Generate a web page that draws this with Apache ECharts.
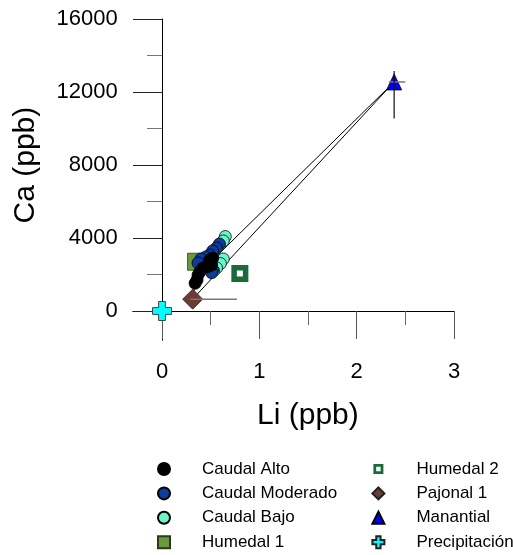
<!DOCTYPE html>
<html>
<head>
<meta charset="utf-8">
<script src="https://cdn.jsdelivr.net/npm/echarts@6/dist/echarts.min.js"></script>
<style>
  html, body { margin: 0; padding: 0; background: #fff; }
  #chart { width: 513px; height: 555px; }
</style>
</head>
<body>
<div id="chart"></div>
<script>
// Li vs Ca concentrations (ppb) by sample group
const caudalAltoLi = [0.52, 0.49, 0.51, 0.47, 0.42, 0.39, 0.37, 0.36, 0.34];
const caudalAltoCa = [2900, 2800, 2520, 2430, 2360, 2150, 1970, 1700, 1520];

const caudalModeradoLi = [0.59, 0.56, 0.52, 0.49, 0.45, 0.40, 0.37, 0.49, 0.52, 0.51];
const caudalModeradoCa = [3670, 3450, 3290, 3070, 2960, 2850, 2630, 2470, 2240, 2100];

const caudalBajoLi = [0.65, 0.63, 0.63, 0.60, 0.56, 0.53];
const caudalBajoCa = [4080, 3840, 2850, 2600, 2360, 2200];

const humedal1Li = [0.35];
const humedal1Ca = [2700];

const humedal2Li = [0.80];
const humedal2Ca = [2050];

const pajonal1Li = [0.315];
const pajonal1Ca = [650];

const manantialLi = [2.385];
const manantialCa = [12550];

const precipitacionLi = [0];
const precipitacionCa = [0];

// Mixing lines between end-members
const mixLi = [0.315, 2.385, 0.35, 0.315];
const mixCa = [650, 12550, 1900, 650];

// Error bars: centre, Li range, Ca range
const errLi = [2.385, 0.315];
const errCa = [12550, 650];
const errLiLow = [2.33, 0.29];
const errLiHigh = [2.50, 0.77];
const errCaLow = [10550, 650];
const errCaHigh = [13150, 650];

// Axis ticks
const xMajorTicks = [0, 1, 2, 3];
const xMinorTicks = [0.5, 1.5, 2.5];
const yMajorTicks = [0, 4000, 8000, 12000, 16000];
const yMinorTicks = [2000, 6000, 10000, 14000];

const zip = (a, b) => a.map((v, i) => [v, b[i]]);

const FONT = 'Liberation Sans, Arial, Helvetica, sans-serif';
const CROSS = 'path://M3.2,0H6.8V3.2H10V6.8H6.8V10H3.2V6.8H0V3.2H3.2Z';
// smaller square inside a 10x10 box, for the hollow-square legend icon
const SMALL_SQUARE = 'path://M0,0M10,10M2,2H8V8H2Z';

const H2_GREEN = '#1B6B3A';

const chart = echarts.init(document.getElementById('chart'), null, { renderer: 'canvas' });

const markStyle = (color, border, width) => ({ color: color, borderColor: border, borderWidth: width, opacity: 1 });

const legendCommon = {
  orient: 'vertical',
  top: 459,
  padding: 0,
  itemWidth: 12,
  itemHeight: 12,
  itemGap: 4.4,
  selectedMode: false,
  textStyle: { fontFamily: FONT, fontSize: 17, lineHeight: 20, color: '#000', padding: [0, 0, 0, 27] }
};

const plainNumber = (v) => String(v);

const option = {
  animation: false,
  backgroundColor: '#fff',
  grid: { left: 132.8, top: 19, width: 321.2, height: 321.2, outerBoundsMode: 'none', containLabel: false },
  legend: [
    Object.assign({ left: 157, data: ['Caudal Alto', 'Caudal Moderado', 'Caudal Bajo', 'Humedal 1'] }, legendCommon),
    Object.assign({
      left: 371,
      data: [
        { name: 'Humedal 2', icon: SMALL_SQUARE, itemStyle: { color: '#fff', borderColor: H2_GREEN, borderWidth: 2.8 } },
        'Pajonal 1', 'Manantial', 'Precipitación'
      ]
    }, legendCommon)
  ],
  xAxis: [
    {
      type: 'value', min: -0.3, max: 3, position: 'bottom',
      axisLine: { show: true, onZero: true, lineStyle: { color: '#000', width: 1 } },
      axisTick: { show: true, customValues: xMajorTicks, length: 28, lineStyle: { color: '#555', width: 1 } },
      axisLabel: { show: true, customValues: xMajorTicks, formatter: plainNumber, margin: 21, fontSize: 22, fontFamily: FONT, color: '#000' },
      splitLine: { show: false },
      name: 'Li (ppb)', nameLocation: 'middle', nameGap: 61,
      nameTextStyle: { fontFamily: FONT, fontSize: 30, color: '#000', padding: [0, 0, 0, 29] }
    },
    {
      type: 'value', min: -0.3, max: 3, position: 'bottom',
      axisLine: { show: false, onZero: true, onZeroAxisIndex: 0 },
      axisTick: { show: true, customValues: xMinorTicks, length: 14, lineStyle: { color: '#666', width: 1 } },
      axisLabel: { show: false },
      splitLine: { show: false }
    }
  ],
  yAxis: [
    {
      type: 'value', min: -1600, max: 16000, position: 'left',
      axisLine: { show: true, onZero: true, lineStyle: { color: '#000', width: 1 } },
      axisTick: { show: true, customValues: yMajorTicks, length: 29, lineStyle: { color: '#222', width: 1 } },
      axisLabel: { show: true, customValues: yMajorTicks, formatter: plainNumber, margin: 15, fontSize: 22, fontFamily: FONT, color: '#000' },
      splitLine: { show: false },
      name: 'Ca (ppb)', nameLocation: 'middle', nameGap: 92,
      nameTextStyle: { fontFamily: FONT, fontSize: 30, color: '#000', padding: [0, 0, 0, 29] }
    },
    {
      type: 'value', min: -1600, max: 16000, position: 'left',
      axisLine: { show: false, onZero: true, onZeroAxisIndex: 0 },
      axisTick: { show: true, customValues: yMinorTicks, length: 15, lineStyle: { color: '#777', width: 1 } },
      axisLabel: { show: false },
      splitLine: { show: false }
    }
  ],
  series: [
    {
      name: 'mezcla', type: 'line', data: zip(mixLi, mixCa),
      symbol: 'none', lineStyle: { color: '#000', width: 1 }, z: 1, silent: true
    },
    {
      name: 'Humedal 1', type: 'scatter', data: zip(humedal1Li, humedal1Ca),
      symbol: 'rect', symbolSize: 17, itemStyle: markStyle('#6B9A3C', '#2a3a1a', 0.8), z: 2
    },
    {
      name: 'Caudal Bajo', type: 'scatter', data: zip(caudalBajoLi, caudalBajoCa),
      symbol: 'circle', symbolSize: 12, itemStyle: markStyle('#6CF5CC', '#000', 0.8), z: 3
    },
    {
      name: 'Caudal Moderado', type: 'scatter', data: zip(caudalModeradoLi, caudalModeradoCa),
      symbol: 'circle', symbolSize: 12, itemStyle: markStyle('#0B3C9E', '#000', 0.8), z: 4
    },
    {
      name: 'Caudal Alto', type: 'scatter', data: zip(caudalAltoLi, caudalAltoCa),
      symbol: 'circle', symbolSize: 12, itemStyle: markStyle('#000', '#000', 0.8), z: 5
    },
    {
      // hollow square: white fill inside a thick green frame
      name: 'Humedal 2', type: 'scatter', data: zip(humedal2Li, humedal2Ca),
      symbol: 'rect', symbolSize: 11.5, itemStyle: markStyle('#fff', H2_GREEN, 5.5), z: 5
    },
    {
      name: 'Pajonal 1', type: 'scatter', data: zip(pajonal1Li, pajonal1Ca),
      symbol: 'diamond', symbolSize: 20, itemStyle: markStyle('#6E3B35', '#222', 0.8), z: 5
    },
    {
      name: 'Manantial', type: 'scatter', data: zip(manantialLi, manantialCa),
      symbol: 'triangle', symbolSize: [15, 16], itemStyle: markStyle('#0000FF', '#000', 0.8), z: 5
    },
    {
      name: 'Precipitación', type: 'scatter', data: zip(precipitacionLi, precipitacionCa),
      symbol: CROSS, symbolSize: 19, itemStyle: markStyle('#00FFFF', '#222', 0.8), z: 6
    },
    {
      name: 'error', type: 'custom', z: 7, silent: true,
      data: errLi.map((v, i) => [v, errCa[i], errLiLow[i], errLiHigh[i], errCaLow[i], errCaHigh[i]]),
      encode: { x: 0, y: 1 },
      renderItem: function (params, api) {
        const x = api.value(0), y = api.value(1);
        const children = [];
        const xl = api.value(2), xh = api.value(3), yl = api.value(4), yh = api.value(5);
        if (xl !== xh) {
          const a = api.coord([xl, y]), b = api.coord([xh, y]);
          children.push({ type: 'line', shape: { x1: a[0], y1: a[1], x2: b[0], y2: b[1] }, style: { stroke: '#777', lineWidth: 1.5 } });
        }
        if (yl !== yh) {
          const a = api.coord([x, yl]), b = api.coord([x, yh]);
          children.push({ type: 'line', shape: { x1: a[0], y1: a[1], x2: b[0], y2: b[1] }, style: { stroke: '#111', lineWidth: 1.2 } });
        }
        return { type: 'group', children: children };
      }
    }
  ]
};

chart.setOption(option);
</script>
</body>
</html>
